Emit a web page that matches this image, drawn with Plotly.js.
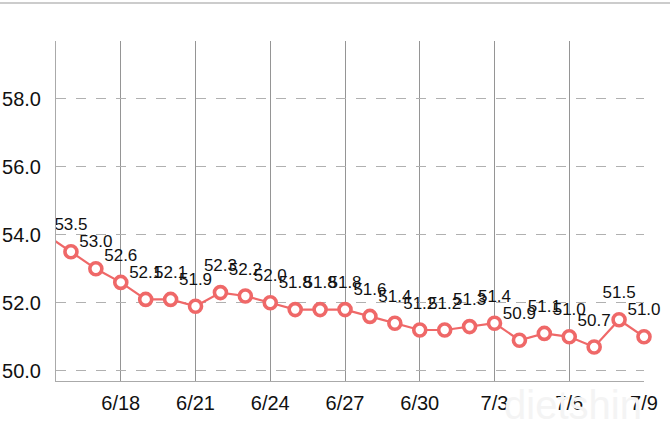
<!DOCTYPE html>
<html>
<head>
<meta charset="utf-8">
<script src="https://cdn.plot.ly/plotly-3.0.1.min.js"></script>
<style>
html,body{margin:0;padding:0;background:#fff;}
#chart{width:670px;height:431px;}
</style>
</head>
<body>
<div id="chart"></div>
<script>
var dates = ['2023-06-15','2023-06-16','2023-06-17','2023-06-18','2023-06-19','2023-06-20','2023-06-21','2023-06-22','2023-06-23','2023-06-24','2023-06-25','2023-06-26','2023-06-27','2023-06-28','2023-06-29','2023-06-30','2023-07-01','2023-07-02','2023-07-03','2023-07-04','2023-07-05','2023-07-06','2023-07-07','2023-07-08','2023-07-09'];
var weights = [54.0,53.5,53.0,52.6,52.1,52.1,51.9,52.3,52.2,52.0,51.8,51.8,51.8,51.6,51.4,51.2,51.2,51.3,51.4,50.9,51.1,51.0,50.7,51.5,51.0];
var yTicks = [50,52,54,56,58];
var yTickLabels = ['50.0','52.0','54.0','56.0','58.0'];

var red = '#EF6868';
var fontFam = 'Liberation Sans, Arial, Helvetica, sans-serif';
var labels = weights.map(function(v){return v.toFixed(1);});

var lineTrace = {
  x: dates,
  y: weights,
  type: 'scatter',
  mode: 'lines+markers',
  line: {color: red, width: 2.2},
  marker: {size: 12, color: '#ffffff', line: {color: red, width: 3.6}},
  cliponaxis: false,
  hoverinfo: 'none'
};

var textTrace = {
  x: dates,
  y: weights,
  type: 'scatter',
  mode: 'markers+text',
  marker: {size: 26, color: 'rgba(0,0,0,0)'},
  text: labels,
  textposition: 'top center',
  textfont: {family: fontFam, size: 17, color: '#111'},
  cliponaxis: false,
  hoverinfo: 'none'
};

var layout = {
  width: 670, height: 431,
  margin: {l: 56, r: 26, t: 41, b: 50},
  paper_bgcolor: '#fff', plot_bgcolor: '#fff',
  showlegend: false,
  font: {family: fontFam, color: '#111'},
  xaxis: {
    type: 'date',
    range: ['2023-06-15 09:36', '2023-07-09'],
    tick0: '2023-06-18', dtick: 3*86400000,
    tickformat: '%-m/%-d',
    showgrid: true, gridcolor: '#959595', gridwidth: 1,
    showline: true, linecolor: '#aaaaaa', linewidth: 1,
    ticks: '', zeroline: false,
    tickfont: {family: fontFam, size: 20, color: '#111'},
    ticklabelstandoff: 4
  },
  yaxis: {
    range: [49.7, 59.7],
    tickvals: yTicks, ticktext: yTickLabels,
    showgrid: true, gridcolor: '#b0b0b0', gridwidth: 1, griddash: '10px,10px',
    showline: true, linecolor: '#aaaaaa', linewidth: 1,
    ticks: '', zeroline: false,
    tickfont: {family: fontFam, size: 20, color: '#111'},
    ticklabelstandoff: 10
  },
  shapes: [{
    type: 'line', xref: 'paper', yref: 'paper',
    x0: -0.2, x1: 1.2, y0: (381-3)/340, y1: (381-3)/340,
    line: {color: '#cccccc', width: 2}
  }],
  annotations: [{
    xref: 'paper', yref: 'paper', x: 1.0, y: -0.0, xanchor: 'right', yanchor: 'top',
    text: 'dietshin', showarrow: false,
    font: {family: fontFam, size: 40, color: '#f4f4f4'}
  }]
};

Plotly.newPlot('chart', [lineTrace, textTrace], layout, {displayModeBar: false, staticPlot: true});
</script>
</body>
</html>
